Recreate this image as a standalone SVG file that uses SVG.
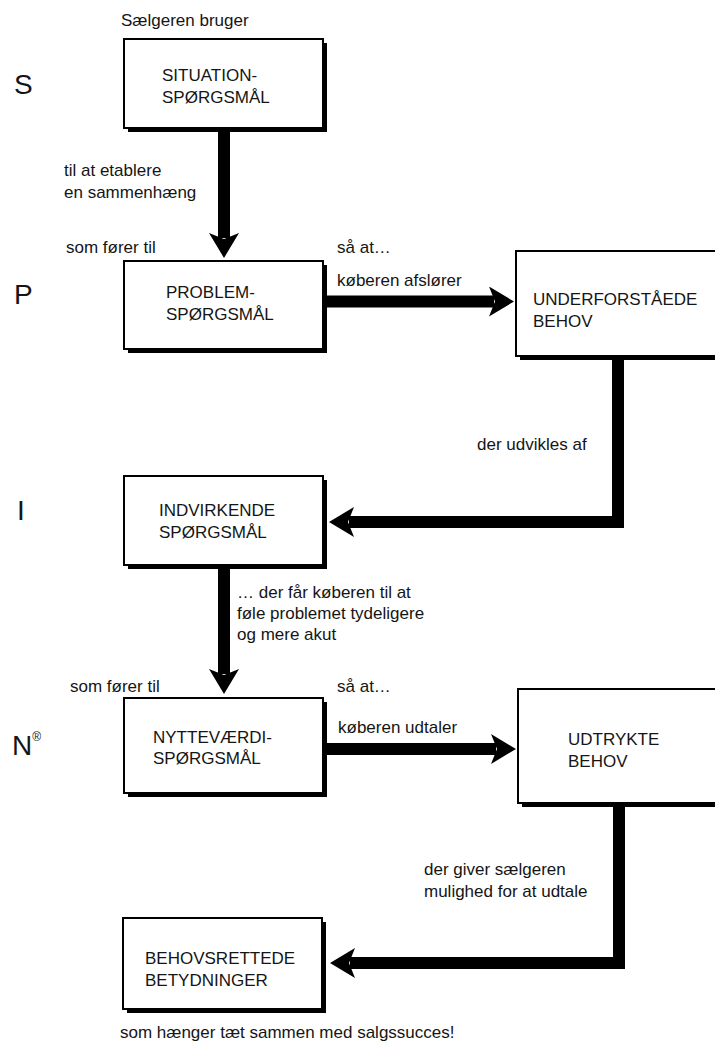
<svg xmlns="http://www.w3.org/2000/svg" width="715" height="1046" viewBox="0 0 715 1046">
  <style>
    .lbl { font-family: "Liberation Sans", Arial, sans-serif; font-size: 17px; fill: #151515; }
    .big { font-family: "Liberation Sans", Arial, sans-serif; font-size: 28px; fill: #151515; }
    .box { fill: #ffffff; stroke: #000000; stroke-width: 2; }
    .shadow { fill: #000000; }
    .conn { fill: none; stroke: #000000; stroke-width: 12; stroke-linejoin: miter; marker-end: url(#head); }
  </style>
  <defs>
    <marker id="head" viewBox="0 0 25 30" refX="5" refY="15" markerWidth="25" markerHeight="30" markerUnits="userSpaceOnUse" orient="auto">
      <path d="M0,0 L25,15 L0,30 L6,15 Z" fill="#000000"/>
    </marker>
  </defs>
  <rect width="715" height="1046" fill="#ffffff"/>

  <!-- stage letters -->
  <g id="letters">
    <text class="big" x="14" y="94">S</text>
    <text class="big" x="14" y="304">P</text>
    <text class="big" x="17" y="520">I</text>
    <text class="big" x="12" y="755">N<tspan font-size="12" dy="-14">®</tspan></text>
  </g>

  <!-- connectors -->
  <g id="connectors">
    <path class="conn" d="M224,132 V238"/>
    <path class="conn" d="M325,301.5 H494"/>
    <path class="conn" d="M618,358 V522 H349"/>
    <path class="conn" d="M224,567 V674"/>
    <path class="conn" d="M325,749 H496"/>
    <path class="conn" d="M619,805 V963 H350"/>
  </g>

  <!-- labels on connectors -->
  <g id="labels">
    <text class="lbl" x="121" y="26">Sælgeren bruger</text>
    <text class="lbl" x="64" y="176">til at etablere</text>
    <text class="lbl" x="64" y="198">en sammenhæng</text>
    <text class="lbl" x="66" y="253">som fører til</text>
    <text class="lbl" x="337" y="253">så at…</text>
    <text class="lbl" x="337" y="286">køberen afslører</text>
    <text class="lbl" x="477" y="450">der udvikles af</text>
    <text class="lbl" x="237" y="598">… der får køberen til at</text>
    <text class="lbl" x="237" y="619">føle problemet tydeligere</text>
    <text class="lbl" x="237" y="640">og mere akut</text>
    <text class="lbl" x="70" y="692">som fører til</text>
    <text class="lbl" x="337" y="692">så at…</text>
    <text class="lbl" x="338" y="733">køberen udtaler</text>
    <text class="lbl" x="424" y="875">der giver sælgeren</text>
    <text class="lbl" x="424" y="897">mulighed for at udtale</text>
    <text class="lbl" x="120" y="1038">som hænger tæt sammen med salgssucces!</text>
  </g>

  <g id="situation">
    <rect class="shadow" x="128" y="43" width="199" height="89"/>
    <rect class="box" x="124" y="39" width="199" height="89"/>
    <text class="lbl" x="162" y="81">SITUATION-</text>
    <text class="lbl" x="162" y="103">SPØRGSMÅL</text>
  </g>

  <g id="problem">
    <rect class="shadow" x="128" y="265" width="199" height="88"/>
    <rect class="box" x="124" y="261" width="199" height="88"/>
    <text class="lbl" x="166" y="298">PROBLEM-</text>
    <text class="lbl" x="166" y="320">SPØRGSMÅL</text>
  </g>

  <g id="underforstaaede">
    <rect class="shadow" x="520" y="255" width="200" height="105"/>
    <rect class="box" x="516" y="251" width="210" height="105"/>
    <text class="lbl" x="533" y="305">UNDERFORSTÅEDE</text>
    <text class="lbl" x="533" y="327">BEHOV</text>
  </g>

  <g id="indvirkende">
    <rect class="shadow" x="128" y="480" width="199" height="89"/>
    <rect class="box" x="124" y="476" width="199" height="89"/>
    <text class="lbl" x="159" y="516">INDVIRKENDE</text>
    <text class="lbl" x="159" y="538">SPØRGSMÅL</text>
  </g>

  <g id="nyttevaerdi">
    <rect class="shadow" x="128" y="702" width="199" height="95"/>
    <rect class="box" x="124" y="698" width="199" height="95"/>
    <text class="lbl" x="153" y="743">NYTTEVÆRDI-</text>
    <text class="lbl" x="153" y="764">SPØRGSMÅL</text>
  </g>

  <g id="udtrykte">
    <rect class="shadow" x="522" y="693" width="200" height="114"/>
    <rect class="box" x="518" y="689" width="210" height="114"/>
    <text class="lbl" x="568" y="745">UDTRYKTE</text>
    <text class="lbl" x="568" y="767">BEHOV</text>
  </g>

  <g id="behovsrettede">
    <rect class="shadow" x="127" y="922" width="199" height="91"/>
    <rect class="box" x="123" y="918" width="199" height="91"/>
    <text class="lbl" x="145" y="964">BEHOVSRETTEDE</text>
    <text class="lbl" x="145" y="986">BETYDNINGER</text>
  </g>
</svg>
